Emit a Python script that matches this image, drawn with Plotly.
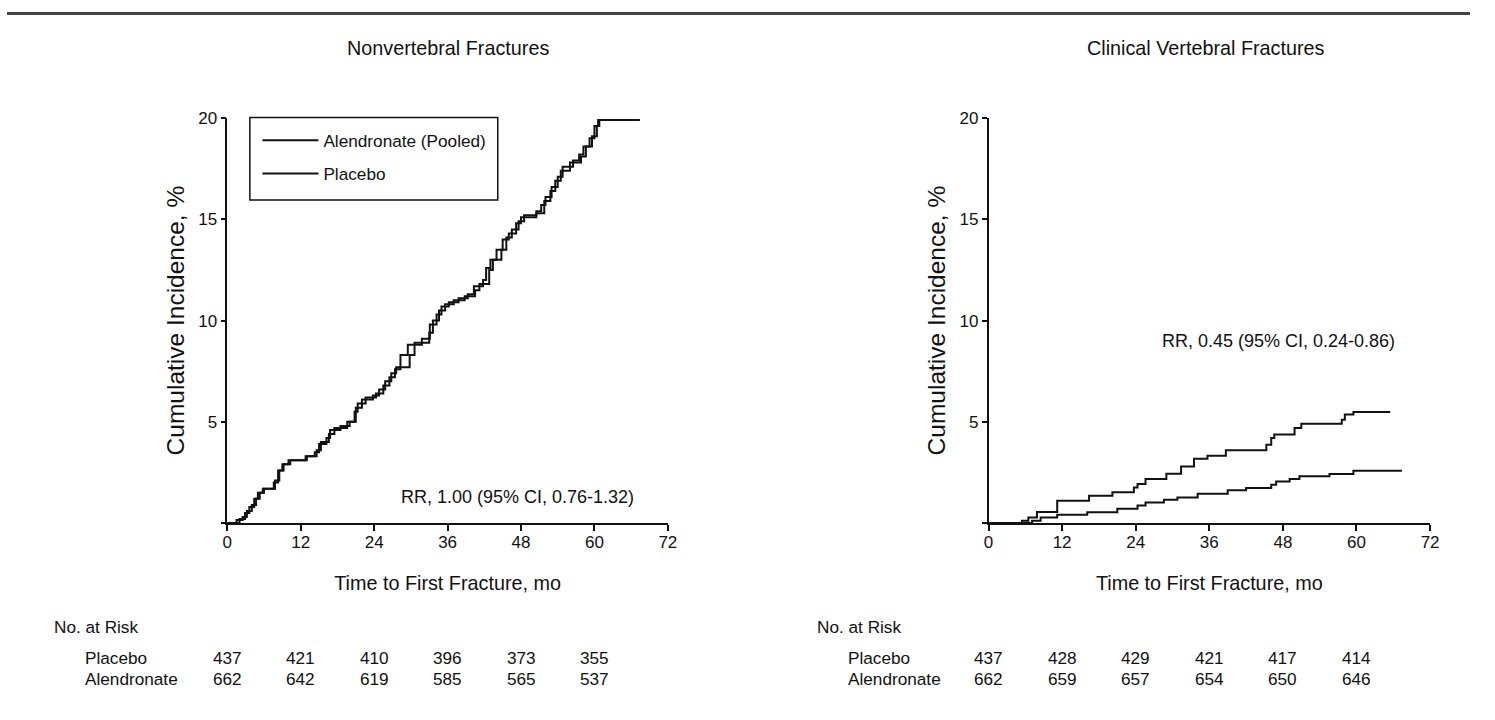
import plotly.graph_objects as go

# ---------------- data ----------------
# Nonvertebral fractures (left panel): step-curve vertices (month, cumulative %)
nv_alen_t = [0, 1.5, 2.5, 3.2, 4.0, 4.7, 5.3, 6.0, 7.8, 8.5, 9.2, 10.0, 12.8, 14.3, 15.0, 16.2, 16.8,
             18.5, 20.0, 20.8, 21.3, 22.6, 24.3, 25.5, 26.5, 27.4, 28.3, 29.5, 31.8, 33.1, 34.2,
             35.0, 36.2, 37.8, 39.3, 40.3, 41.8, 42.3, 43.0, 44.0, 45.6, 46.5, 47.6, 48.5, 50.5,
             51.3, 52.0, 53.0, 54.0, 54.8, 56.5, 57.5, 58.2, 59.2, 60.0, 60.6, 67.4]
nv_alen_v = [0, 0.15, 0.3, 0.6, 0.9, 1.2, 1.5, 1.7, 2.1, 2.6, 2.9, 3.1, 3.3, 3.5, 3.9, 4.2, 4.6,
             4.8, 5.0, 5.5, 5.9, 6.2, 6.4, 6.8, 7.2, 7.6, 8.3, 8.8, 9.1, 9.8, 10.3,
             10.7, 10.9, 11.1, 11.3, 11.7, 12.0, 12.6, 13.0, 13.5, 14.1, 14.5, 14.9, 15.2, 15.4,
             15.7, 16.1, 16.6, 17.1, 17.6, 17.9, 18.2, 18.6, 19.0, 19.6, 19.9, 19.9]
nv_plac_t = [0, 2.0, 2.9, 3.6, 4.4, 5.0, 5.8, 7.6, 8.3, 9.0, 10.3, 13.0, 14.6, 15.3, 16.6, 17.5,
             19.6, 21.0, 22.0, 23.8, 24.8, 25.8, 26.8, 27.6, 29.8, 30.6, 33.0, 33.6, 34.6, 35.6,
             37.0, 38.8, 40.5, 41.2, 42.8, 43.4, 44.8, 45.0, 46.0, 47.2, 48.0, 50.5, 51.8, 52.8,
             53.6, 54.5, 56.0, 57.8, 58.6, 59.6, 60.4, 60.8, 67.4]
nv_plac_v = [0, 0.2, 0.5, 0.8, 1.2, 1.5, 1.7, 2.0, 2.6, 2.9, 3.1, 3.3, 3.6, 4.0, 4.4, 4.7,
             5.0, 5.7, 6.1, 6.3, 6.6, 7.0, 7.4, 7.7, 8.3, 8.9, 9.4, 10.0, 10.5, 10.8,
             11.0, 11.2, 11.5, 11.8, 12.5, 13.0, 13.5, 14.0, 14.3, 14.8, 15.1, 15.3, 15.9, 16.4,
             16.9, 17.4, 17.8, 18.1, 18.6, 19.1, 19.6, 19.9, 19.9]

# Clinical vertebral fractures (right panel)
cv_plac_t = [0, 5.45, 6.5, 7.9, 11.2, 16.4, 20.2, 23.7, 24.3, 25.6, 29.0, 31.4, 33.5, 35.7,
             38.7, 45.3, 46.1, 46.6, 49.9, 51.0, 57.6, 58.1, 59.5, 65.5]
cv_plac_v = [0, 0.12, 0.28, 0.55, 1.1, 1.35, 1.52, 1.76, 1.93, 2.18, 2.44, 2.8, 3.18, 3.33,
             3.6, 3.87, 4.2, 4.37, 4.7, 4.91, 5.1, 5.36, 5.49, 5.49]
cv_alen_t = [0, 7.1, 8.5, 11.2, 16.1, 21.0, 24.3, 25.6, 28.6, 30.8, 34.1, 39.0, 42.0, 46.1,
             46.9, 49.1, 50.7, 55.6, 59.5, 67.4]
cv_alen_v = [0, 0.12, 0.28, 0.41, 0.54, 0.71, 0.87, 1.02, 1.15, 1.27, 1.45, 1.62, 1.73, 1.9,
             2.06, 2.18, 2.31, 2.42, 2.59, 2.59]

risk_months = [0, 12, 24, 36, 48, 60]
nv_risk_placebo = [437, 421, 410, 396, 373, 355]
nv_risk_alen = [662, 642, 619, 585, 565, 537]
cv_risk_placebo = [437, 428, 429, 421, 417, 414]
cv_risk_alen = [662, 659, 657, 654, 650, 646]

x_ticks = [0, 12, 24, 36, 48, 60, 72]
y_ticks = [0, 5, 10, 15, 20]
y_ticktext = ["", "5", "10", "15", "20"]

# ---------------- style ----------------
PAGE_W, PAGE_H = 1495, 720
OFF = 8          # default body margin of the page
S = 0.987        # observed page-to-picture scale
W, H = PAGE_W - 2 * OFF, PAGE_H - 2 * OFF
FONT = "Liberation Sans, Arial, sans-serif"
INK = "#111111"


def px_x(p):
    """picture x position -> paper x"""
    return ((p - OFF) / S) / W


def px_y(p):
    """picture y position -> paper y"""
    return 1 - ((p - OFF) / S) / H


fig = go.Figure()

line_style = dict(color=INK, width=2, shape="hv")
fig.add_trace(go.Scatter(x=nv_alen_t, y=nv_alen_v, mode="lines", line=line_style,
                         name="Alendronate (Pooled)", legendgroup="a", xaxis="x", yaxis="y"))
fig.add_trace(go.Scatter(x=nv_plac_t, y=nv_plac_v, mode="lines", line=line_style,
                         name="Placebo", legendgroup="p", xaxis="x", yaxis="y"))
fig.add_trace(go.Scatter(x=cv_plac_t, y=cv_plac_v, mode="lines", line=line_style,
                         name="Placebo", showlegend=False, xaxis="x2", yaxis="y2"))
fig.add_trace(go.Scatter(x=cv_alen_t, y=cv_alen_v, mode="lines", line=line_style,
                         name="Alendronate", showlegend=False, xaxis="x2", yaxis="y2"))

ydom = [px_y(522), px_y(117)]
xaxis_common = dict(range=[0, 72], tickvals=x_ticks, ticks="outside", ticklen=6, tickwidth=1.5,
                    tickcolor=INK, showline=True, linecolor=INK, linewidth=1.5, showgrid=False,
                    zeroline=False, tickfont=dict(family=FONT, size=17, color=INK),
                    ticklabelstandoff=-3,
                    title=dict(text="Time to First Fracture, mo",
                               font=dict(family=FONT, size=19.8, color=INK), standoff=25),
                    fixedrange=True)
yaxis_common = dict(range=[0, 20], tickvals=y_ticks, ticktext=y_ticktext, ticks="outside",
                    ticklen=5, tickwidth=1.5, tickcolor=INK, showline=True, linecolor=INK,
                    linewidth=1.5, showgrid=False, zeroline=False, domain=ydom,
                    tickfont=dict(family=FONT, size=17, color=INK),
                    title=dict(text="Cumulative Incidence, %",
                               font=dict(family=FONT, size=24.5, color=INK), standoff=7),
                    fixedrange=True)

fig.update_layout(
    width=W, height=H,
    margin=dict(l=0, r=0, t=0, b=0),
    paper_bgcolor="white", plot_bgcolor="white",
    xaxis=dict(domain=[px_x(229.5), px_x(668.5)], anchor="y", **xaxis_common),
    yaxis=dict(anchor="x", **yaxis_common),
    xaxis2=dict(domain=[px_x(988), px_x(1428)], anchor="y2", **xaxis_common),
    yaxis2=dict(anchor="x2", **yaxis_common),
    legend=dict(x=px_x(259.5), y=px_y(121.5), xanchor="left", yanchor="top",
                borderwidth=0, bgcolor="rgba(0,0,0,0)",
                font=dict(family=FONT, size=17.2, color=INK), itemwidth=56,
                traceorder="grouped", tracegroupgap=8),
    showlegend=True,
)

# top rule
fig.add_shape(type="line", xref="paper", yref="paper", x0=px_x(10), x1=1, y0=px_y(12.5), y1=px_y(12.5),
              line=dict(color="#444444", width=3))
# legend frame
fig.add_shape(type="rect", xref="paper", yref="paper", x0=px_x(252), x1=px_x(499),
              y0=px_y(199), y1=px_y(116.5), line=dict(color=INK, width=1.5))

annotations = []
# panel titles
for txt, xc in (("Nonvertebral Fractures", 449), ("Clinical Vertebral Fractures", 1205)):
    annotations.append(dict(text=txt, xref="paper", yref="paper", x=px_x(xc), y=px_y(47),
                            xanchor="center", yanchor="middle", showarrow=False,
                            font=dict(family=FONT, size=19.8, color=INK)))
# RR texts
annotations.append(dict(text="RR, 1.00 (95% CI, 0.76-1.32)", xref="x", yref="y",
                        x=66.8, y=1.28, xanchor="right", yanchor="middle", showarrow=False,
                        font=dict(family=FONT, size=18, color=INK)))
annotations.append(dict(text="RR, 0.45 (95% CI, 0.24-0.86)", xref="x2", yref="y2",
                        x=66.6, y=9.0, xanchor="right", yanchor="middle", showarrow=False,
                        font=dict(family=FONT, size=18, color=INK)))

# number at risk tables
tfont = dict(family=FONT, size=17.2, color=INK)
for xa, offset, plac, alen in (("x", 0, nv_risk_placebo, nv_risk_alen),
                               ("x2", 760, cv_risk_placebo, cv_risk_alen)):
    annotations.append(dict(text="No. at Risk", xref="paper", yref="paper",
                            x=px_x(55 + offset), y=px_y(626), xanchor="left", yanchor="middle",
                            showarrow=False, font=tfont))
    annotations.append(dict(text="Placebo", xref="paper", yref="paper",
                            x=px_x(86 + offset), y=px_y(657), xanchor="left", yanchor="middle",
                            showarrow=False, font=tfont))
    annotations.append(dict(text="Alendronate", xref="paper", yref="paper",
                            x=px_x(86 + offset), y=px_y(678), xanchor="left", yanchor="middle",
                            showarrow=False, font=tfont))
    for m, p, a in zip(risk_months, plac, alen):
        annotations.append(dict(text=str(p), xref=xa, yref="paper", x=m, y=px_y(657),
                                xanchor="center", yanchor="middle", showarrow=False, font=tfont))
        annotations.append(dict(text=str(a), xref=xa, yref="paper", x=m, y=px_y(678),
                                xanchor="center", yanchor="middle", showarrow=False, font=tfont))

fig.update_layout(annotations=annotations)

fig.write_html("out.html")
